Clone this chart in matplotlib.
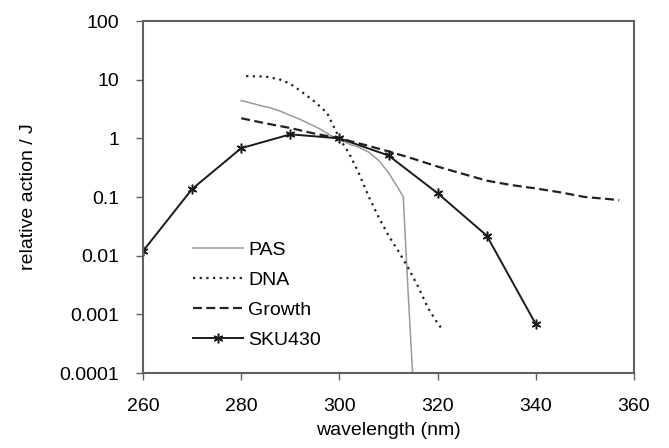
import matplotlib
matplotlib.use("Agg")
import matplotlib.pyplot as plt

# Data
pas_x = [280, 282, 284, 286, 288, 290, 292, 294, 296, 298, 300, 302, 304, 306, 308, 310, 312, 313, 314, 315]
pas_y = [4.4, 4.0, 3.6, 3.3, 2.9, 2.45, 2.1, 1.75, 1.45, 1.15, 0.95, 0.8, 0.7, 0.58, 0.42, 0.26, 0.14, 0.1, 0.0023, 0.00007]

dna_x = [281, 285, 288, 290, 292, 295, 297.5, 300, 302, 304, 306, 308, 310, 312, 314, 316, 318, 320, 321]
dna_y = [11.5, 11.3, 10.0, 8.5, 6.5, 4.2, 2.7, 1.0, 0.55, 0.25, 0.1, 0.045, 0.022, 0.012, 0.0062, 0.003, 0.0013, 0.0007, 0.00055]

growth_x = [280, 285, 290, 295, 300, 305, 310, 315, 320, 325, 330, 335, 340, 345, 350, 355, 357]
growth_y = [2.2, 1.8, 1.5, 1.2, 1.0, 0.78, 0.6, 0.45, 0.33, 0.25, 0.19, 0.16, 0.14, 0.12, 0.10, 0.092, 0.088]

sku_x = [260, 270, 280, 290, 300, 310, 320, 330, 340]
sku_y = [0.012, 0.137, 0.68, 1.17, 1.0, 0.51, 0.116, 0.022, 0.00068]

xticks = [260, 280, 300, 320, 340, 360]
yticks = [100, 10, 1, 0.1, 0.01, 0.001, 0.0001]
ytick_labels = ["100", "10", "1", "0.1", "0.01", "0.001", "0.0001"]

plt.rcParams['font.family'] = ['Liberation Sans', 'DejaVu Sans']

fig = plt.figure(figsize=(6.69, 4.48), dpi=100)
ax = fig.add_axes([0.2138, 0.1674, 0.7339, 0.7857])

ax.plot(pas_x, pas_y, color='#9a9a9a', lw=1.1, label='PAS')
ax.plot(dna_x, dna_y, color='#222222', lw=1.6, ls=(0, (1, 2)), label='DNA')
ax.plot(growth_x, growth_y, color='#222222', lw=1.6, ls=(0, (4, 2)), label='Growth')
ax.plot(sku_x, sku_y, color='#1a1a1a', lw=1.4, marker=(6, 2, 0), ms=7, mew=1.1, label='SKU430')

ax.set_yscale('log')
ax.set_xlim(260, 360)
ax.set_ylim(0.0001, 100)
ax.set_xticks(xticks)
ax.set_xticklabels([str(t) for t in xticks])
ax.set_yticks(yticks)
ax.set_yticklabels(ytick_labels)
ax.minorticks_off()
ax.tick_params(axis='both', direction='out', length=5, width=1, color='#606060', labelsize=14)
ax.tick_params(axis='x', pad=13)
ax.tick_params(axis='y', pad=12)

for s in ax.spines.values():
    s.set_color('#606060')
    s.set_linewidth(1.5)

ax.set_xlabel('wavelength (nm)', fontsize=14)
ax.set_ylabel('relative action / J', fontsize=14)
ax.xaxis.set_label_coords(0.5, -0.14)
ax.yaxis.set_label_coords(-0.215, 0.5)

leg = ax.legend(loc='lower left', bbox_to_anchor=(0.085, 0.047), frameon=False, fontsize=14,
                handlelength=2.6, handletextpad=0.25, labelspacing=0.64, borderaxespad=0)

fig.savefig('out.png', dpi=100)
